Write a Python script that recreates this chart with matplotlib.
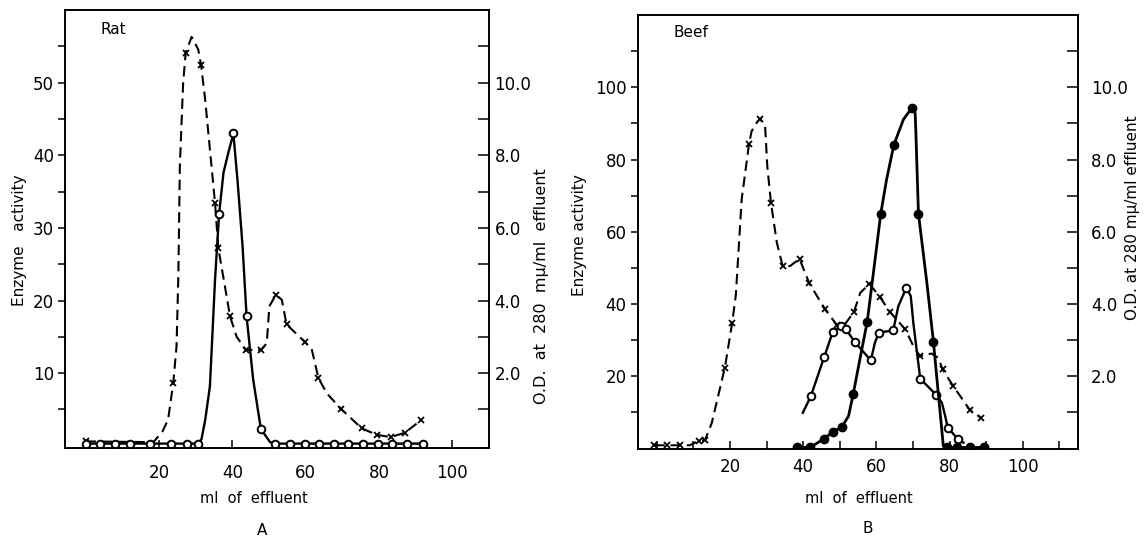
import numpy as np
import matplotlib.pyplot as plt
from matplotlib.ticker import MultipleLocator, FixedLocator

plt.rcParams['font.family'] = ['DejaVu Sans']

# ---------- Panel A (Rat) ----------
# enzyme activity, open circles (left axis)
rat_enz_ml = [0, 3.9, 8.0, 12.1, 17.5, 23.4, 27.6, 30.7, 36.4, 40.3, 43.9, 47.8,
              51.6, 55.7, 59.8, 63.6, 67.6, 71.6, 75.7, 79.7, 83.5, 87.6, 91.9]
rat_enz = [0.3, 0.3, 0.3, 0.3, 0.3, 0.3, 0.3, 0.3, 31.9, 43.0, 17.8, 2.3,
           0.3, 0.3, 0.3, 0.3, 0.3, 0.3, 0.3, 0.3, 0.3, 0.3, 0.3]
# traced solid curve through the circles
rat_enz_line_ml = [0, 30.7, 31.6, 32.6, 33.9, 35.3, 36.4, 37.6, 38.9, 40.3, 41.4,
                   42.8, 43.9, 45.7, 47.8, 50.3, 51.6, 91.9]
rat_enz_line = [0.3, 0.3, 0.9, 3.5, 8.2, 22.9, 31.9, 37.6, 40.3, 43.0, 36.7,
                27.5, 17.8, 9.1, 2.3, 0.5, 0.3, 0.3]

# O.D. at 280 mu, crosses (right axis)
rat_od_ml = [0, 23.9, 27.3, 31.5, 35.3, 36.2, 39.4, 43.7, 47.8, 51.9, 54.8,
             59.8, 63.5, 69.6, 75.3, 79.4, 83.2, 87.1, 91.4]
rat_od = [0.12, 1.72, 10.82, 10.48, 6.68, 5.44, 3.56, 2.64, 2.64, 4.16, 3.34,
          2.86, 1.86, 1.02, 0.48, 0.30, 0.24, 0.36, 0.70]
rat_od_line_ml = [0, 18.5, 21.0, 22.5, 23.9, 24.8, 25.3, 25.7, 26.6, 27.3, 28.9,
                  30.7, 31.5, 32.6, 33.9, 35.3, 36.2, 39.4, 41.2, 43.7, 47.8,
                  49.4, 50.1, 51.9, 53.5, 54.8, 59.8, 61.7, 63.5, 65.8, 69.6,
                  75.3, 79.4, 83.2, 87.1, 91.4]
rat_od_line = [0.12, 0.10, 0.40, 0.72, 1.72, 2.74, 4.70, 7.70, 10.0, 10.82, 11.26,
               10.92, 10.48, 9.54, 8.16, 6.68, 5.44, 3.56, 3.00, 2.64, 2.64,
               2.82, 3.84, 4.16, 4.02, 3.34, 2.86, 2.64, 1.86, 1.44, 1.02,
               0.48, 0.30, 0.24, 0.36, 0.70]

# ---------- Panel B (Beef) ----------
beef_open_ml = [42.1, 45.7, 48.1, 50.3, 51.7, 54.1, 58.5, 60.7, 64.6, 68.2,
                72.0, 76.3, 79.5, 82.2]
beef_open = [14.5, 25.2, 32.3, 33.9, 33.0, 29.5, 24.4, 32.1, 32.7, 44.5,
             19.3, 14.9, 5.8, 2.7]
beef_open_line_ml = [39.9, 42.1, 45.7, 48.1, 50.3, 51.7, 54.1, 58.5, 59.6, 60.7,
                     64.6, 66.0, 68.2, 69.4, 70.1, 71.0, 72.0, 76.3, 77.9, 78.8,
                     79.5, 82.2, 83.8]
beef_open_line = [9.9, 14.5, 25.2, 32.3, 33.9, 33.0, 29.5, 24.4, 29.3, 32.1,
                  32.7, 39.4, 44.5, 42.2, 34.8, 27.4, 19.3, 14.9, 12.7, 9.0,
                  5.8, 2.7, 1.6]

beef_closed_ml = [38.3, 41.9, 45.7, 48.1, 50.6, 53.7, 57.5, 61.2, 64.8, 69.7,
                  71.5, 75.6, 79.4, 82.1, 85.6, 89.4]
beef_closed = [0.3, 0.3, 2.7, 4.6, 6.0, 15.2, 35.1, 65.0, 84.1, 94.3,
               65.0, 29.5, 0.3, 0.3, 0.3, 0.3]
beef_closed_line_ml = [38.3, 41.9, 45.7, 48.1, 50.6, 52.4, 53.7, 55.5, 57.5, 59.2,
                       61.2, 62.8, 64.8, 67.4, 69.7, 70.6, 70.8, 71.5, 73.8,
                       75.6, 76.9, 78.3, 79.4, 89.4]
beef_closed_line = [0.3, 0.3, 2.7, 4.6, 6.0, 9.0, 15.2, 24.7, 35.1, 48.7,
                    65.0, 74.5, 84.1, 91.1, 94.3, 92.9, 87.4, 65.0, 45.9,
                    29.5, 15.5, 0.7, 0.3, 0.3]

beef_od_ml = [-0.7, 2.9, 6.4, 11.4, 13.2, 18.6, 20.6, 25.2, 28.2, 31.2, 34.4,
              39.0, 41.7, 46.0, 49.2, 53.9, 58.1, 61.0, 63.7, 67.9, 71.9,
              78.1, 81.0, 85.6, 88.6]
beef_od = [0.09, 0.09, 0.09, 0.21, 0.24, 2.24, 3.48, 8.43, 9.13, 6.80, 5.05,
           5.25, 4.57, 3.85, 3.42, 3.79, 4.56, 4.19, 3.78, 3.30, 2.56,
           2.19, 1.73, 1.06, 0.85]
beef_od_line_ml = [-0.7, 9.0, 11.4, 13.2, 15.0, 17.0, 18.6, 20.6, 21.6, 23.2,
                   25.2, 25.9, 27.3, 28.2, 29.6, 30.2, 31.2, 32.8, 34.4, 36.4,
                   39.0, 41.7, 46.0, 49.2, 51.5, 53.9, 55.6, 58.1, 61.0, 63.7,
                   67.9, 70.1, 71.9, 75.1, 76.9, 78.1, 81.0, 85.6, 88.6]
beef_od_line = [0.09, 0.09, 0.21, 0.24, 0.70, 1.55, 2.24, 3.48, 4.25, 6.90,
                8.43, 8.78, 9.02, 9.13, 8.92, 7.81, 6.80, 5.70, 5.05, 5.05,
                5.25, 4.57, 3.85, 3.42, 3.45, 3.79, 4.31, 4.56, 4.19, 3.78,
                3.30, 2.84, 2.56, 2.63, 2.51, 2.19, 1.73, 1.06, 0.85]

fig = plt.figure(figsize=(11.45, 5.36), dpi=100)
axA = fig.add_axes([0.0568, 0.1636, 0.3703, 0.8177])
axB = fig.add_axes([0.5570, 0.1632, 0.3848, 0.8088])

lw = 1.7
dash = (0, (5, 2.8))


def style_axes(ax, ax2, xlim, ylim, od_lim, ymaj, ymin, xmaj, xmin, rpad, xpad):
    ax.set_xlim(*xlim)
    ax.set_ylim(*ylim)
    ax2.set_ylim(*od_lim)
    for a in (ax, ax2):
        for s in a.spines.values():
            s.set_linewidth(1.2)
    ax.yaxis.set_major_locator(FixedLocator(ymaj))
    ax.yaxis.set_minor_locator(FixedLocator(ymin))
    ax.xaxis.set_major_locator(FixedLocator(xmaj))
    ax.xaxis.set_minor_locator(FixedLocator(xmin))
    ax.tick_params(axis='y', which='both', direction='out', length=5, width=1.1,
                   labelsize=12, pad=3)
    ax.tick_params(axis='x', which='both', direction='in', length=6, width=1.1,
                   labelsize=12, pad=xpad)
    ax2.yaxis.set_major_locator(FixedLocator([2, 4, 6, 8, 10]))
    ax2.yaxis.set_minor_locator(FixedLocator([1, 3, 5, 7, 9, 11]))
    ax2.yaxis.set_major_formatter(lambda v, p: f"{v:.1f}")
    ax2.tick_params(axis='y', which='both', direction='in', length=8, width=1.1,
                    labelsize=12, pad=rpad)


# Panel A
axA2 = axA.twinx()
axA2.plot(rat_od_line_ml, rat_od_line, color='black', lw=1.5, linestyle=dash)
axA2.plot(rat_od_ml, rat_od, 'x', color='black', ms=4.5, mew=1.3)
axA.plot(rat_enz_line_ml, rat_enz_line, color='black', lw=lw)
axA.plot(rat_enz_ml, rat_enz, 'o', color='black', mfc='white', ms=5.5, mew=1.4)
style_axes(axA, axA2, (-5.6, 110), (-0.35, 60), (-0.07, 12),
           [10, 20, 30, 40, 50], [5, 15, 25, 35, 45, 55],
           [20, 40, 60, 80, 100], [], 4, 11)
axA.set_zorder(axA2.get_zorder() + 1)
axA.patch.set_visible(False)
axA.text(0.083, 0.955, 'Rat', transform=axA.transAxes, fontsize=11,
         va='center', ha='left')

# Panel B
axB2 = axB.twinx()
axB2.plot(beef_od_line_ml, beef_od_line, color='black', lw=1.5, linestyle=dash)
axB2.plot(beef_od_ml, beef_od, 'x', color='black', ms=5, mew=1.3)
axB.plot(beef_open_line_ml, beef_open_line, color='black', lw=lw)
axB.plot(beef_open_ml, beef_open, 'o', color='black', mfc='white', ms=5.5, mew=1.4)
axB.plot(beef_closed_line_ml, beef_closed_line, color='black', lw=lw + 0.3)
axB.plot(beef_closed_ml, beef_closed, 'o', color='black', ms=6)
style_axes(axB, axB2, (-5.2, 115.2), (0, 120), (0, 12),
           [20, 40, 60, 80, 100], [10, 30, 50, 70, 90, 110],
           [20, 40, 60, 80, 100], [0, 10, 30, 50, 70, 90, 110], 9, 7)
axB.set_zorder(axB2.get_zorder() + 1)
axB.patch.set_visible(False)
axB.text(0.080, 0.96, 'Beef', transform=axB.transAxes, fontsize=11,
         va='center', ha='left')

# axis labels
fig.text(0.0166, 0.552, 'Enzyme   activity', rotation=90, fontsize=11,
         ha='center', va='center')
fig.text(0.4725, 0.466, 'O.D.  at  280  m\u03bc/ml  effluent', rotation=90,
         fontsize=11.5, ha='center', va='center')
fig.text(0.222, 0.070, 'ml  of  effluent', fontsize=10.5, ha='center', va='center')
fig.text(0.2286, 0.011, 'A', fontsize=11, ha='center', va='center')

fig.text(0.5057, 0.5616, 'Enzyme activity', rotation=90, fontsize=11,
         ha='center', va='center')
fig.text(0.9895, 0.593, 'O.D. at 280 m\u03bc/ml effluent', rotation=90,
         fontsize=11, ha='center', va='center')
fig.text(0.750, 0.070, 'ml  of  effluent', fontsize=10.5, ha='center', va='center')
fig.text(0.7575, 0.0144, 'B', fontsize=11, ha='center', va='center')

fig.savefig('out.png', dpi=100, facecolor='white')
